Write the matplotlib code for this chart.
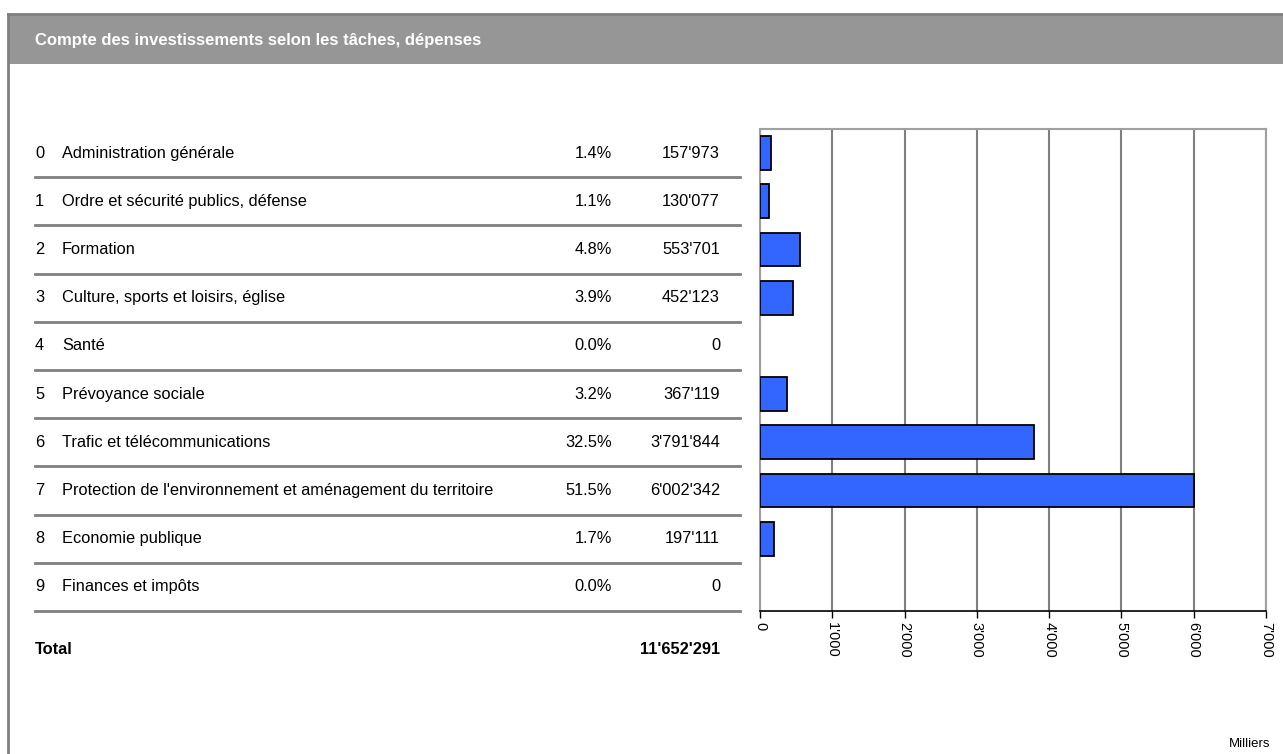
import matplotlib
matplotlib.use("Agg")
import matplotlib.pyplot as plt
from matplotlib.patches import Rectangle
from matplotlib.lines import Line2D

plt.rcParams['font.family'] = ['Liberation Sans', 'DejaVu Sans']

title = "Compte des investissements selon les tâches, dépenses"
codes = ["0", "1", "2", "3", "4", "5", "6", "7", "8", "9"]
categories = ["Administration générale",
              "Ordre et sécurité publics, défense",
              "Formation",
              "Culture, sports et loisirs, église",
              "Santé",
              "Prévoyance sociale",
              "Trafic et télécommunications",
              "Protection de l'environnement et aménagement du territoire",
              "Economie publique",
              "Finances et impôts"]
percents = ["1.4%", "1.1%", "4.8%", "3.9%", "0.0%", "3.2%", "32.5%", "51.5%", "1.7%", "0.0%"]
amounts = [157973, 130077, 553701, 452123, 0, 367119, 3791844, 6002342, 197111, 0]
total_label = "Total"
total_value = 11652291
xticks = [0, 1000, 2000, 3000, 4000, 5000, 6000, 7000]
unit_label = "Milliers"

W, H = 1283, 754
fig = plt.figure(figsize=(W / 100, H / 100), dpi=100)

def fx(px):
    return px / W

def fy(py):
    return 1 - py / H

# frame and title bar
bg = fig.add_axes([0, 0, 1, 1])
bg.set_xlim(0, W)
bg.set_ylim(H, 0)
bg.axis('off')
bg.add_patch(Rectangle((8, 14), W - 8, 50, facecolor='#969696', edgecolor='none'))
bg.add_line(Line2D([8, W], [14, 14], color='#7f7f7f', lw=2))
bg.add_line(Line2D([8, 8], [14, H], color='#7f7f7f', lw=2))
bg.text(35, 40, title, color='white', fontsize=12, fontweight='bold', va='center', ha='left')

fmt = lambda v: f"{v:,}".replace(",", "'")

FS = 11.8
# table
row_top, row_bot = 129, 611
n = len(categories)
rh = (row_bot - row_top) / n
for i in range(n):
    yc = row_top + rh * (i + 0.5)
    bg.text(35, yc, codes[i], fontsize=FS, va='center', ha='left')
    bg.text(62, yc, categories[i], fontsize=FS, va='center', ha='left')
    bg.text(612, yc, percents[i], fontsize=FS, va='center', ha='right')
    bg.text(720, yc, fmt(amounts[i]), fontsize=FS, va='center', ha='right')
    ys = row_top + rh * (i + 1)
    bg.add_line(Line2D([35, 740], [ys, ys], color='#808080', lw=2))
bg.text(35, 650, total_label, fontsize=FS, fontweight='bold', va='center', ha='left')
bg.text(720, 650, fmt(total_value), fontsize=FS, fontweight='bold', va='center', ha='right')
bg.text(1270, 744, unit_label, fontsize=9.5, va='center', ha='right')

# bar chart
x0, x1 = 760, 1266
ax = fig.add_axes([fx(x0), fy(row_bot), fx(x1 - x0), (row_bot - row_top) / H])
vals = [a / 1000 for a in amounts]
ypos = list(range(n))
bars = ax.barh(ypos, vals, height=0.7, color='#3366FF', edgecolor='black', linewidth=1.3, zorder=3)
for b, v in zip(bars, vals):
    if v == 0:
        b.set_visible(False)
ax.set_ylim(n - 0.5, -0.5)
ax.set_xlim(0, 7000)
ax.set_xticks(xticks)
ax.set_xticklabels([fmt(t) for t in xticks], rotation=-90, fontsize=10.5)
ax.set_yticks([])
ax.grid(axis='x', color='#808080', lw=1.5, zorder=0)
for s in ['top', 'right', 'left']:
    ax.spines[s].set_color('#a0a0a0')
    ax.spines[s].set_linewidth(1.5)
ax.spines['bottom'].set_color('black')
ax.spines['bottom'].set_linewidth(1.2)
ax.tick_params(axis='x', direction='out', length=5, width=1, color='black', pad=3)

fig.savefig("out.png", dpi=100)
